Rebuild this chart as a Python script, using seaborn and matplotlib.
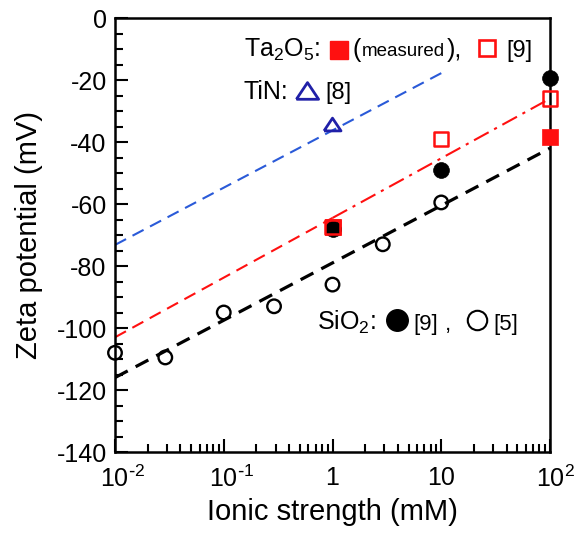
import matplotlib
matplotlib.use("Agg")
import matplotlib.pyplot as plt
import matplotlib.transforms as mtransforms
import seaborn as sns
import numpy as np
from matplotlib.ticker import FixedLocator, LogLocator, NullFormatter, MultipleLocator

# ---------------- data ----------------
sio2_ref5_ionic = [0.01, 0.029, 0.1, 0.29, 1, 2.9, 10]
sio2_ref5_zeta = [-108, -109.5, -95, -93, -86, -73, -59.5]

sio2_ref9_ionic = [1, 10, 100]
sio2_ref9_zeta = [-68, -49, -19.5]

ta_meas_ionic = [1, 100]
ta_meas_zeta = [-67.5, -38.5]

ta_ref9_ionic = [1, 10, 100]
ta_ref9_zeta = [-67.5, -39, -26]

tin_ref8_ionic = [1]
tin_ref8_zeta = [-34.5]

blue_line_x = [0.01, 10.5]
blue_line_y = [-73.2, -17.4]
red_line_x = [0.01, 1, 100]
red_line_y = [-103, -64.5, -26]
black_line_x = [0.01, 100]
black_line_y = [-116, -42]

x_ticks = [0.01, 0.1, 1, 10, 100]
x_tick_labels = [r"10$^{\text{-}2}$", r"10$^{\text{-}1}$", "1", "10", "10$^{2}$"]
x_label_shift_px = [8, 8, 0, 0, 5]
y_ticks = [0, -20, -40, -60, -80, -100, -120, -140]

RED = "#ff1010"
BLUE = "#2a5ad8"
NAVY = "#2020a8"

# ---------------- style ----------------
sns.set_theme(style="ticks")
plt.rcParams["font.family"] = ["Liberation Sans", "DejaVu Sans"]
plt.rcParams["mathtext.default"] = "regular"
plt.rcParams["axes.unicode_minus"] = False

W, H = 577, 534
fig = plt.figure(figsize=(W / 100, H / 100), dpi=100)
L, R, T, B = 115, 550, 18, 452
ax = fig.add_axes([L / W, 1 - B / H, (R - L) / W, (B - T) / H])

# ---------------- lines ----------------
sns.lineplot(x=blue_line_x, y=blue_line_y, ax=ax, color=BLUE, lw=1.5,
             linestyle=(0, (6, 3.5)), sort=False)
sns.lineplot(x=red_line_x[:2], y=red_line_y[:2], ax=ax, color=RED, lw=1.5,
             linestyle=(0, (6, 3.5)), sort=False)
sns.lineplot(x=red_line_x[1:], y=red_line_y[1:], ax=ax, color=RED, lw=1.5,
             linestyle=(0, (8, 3, 1.5, 3)), sort=False)
sns.lineplot(x=black_line_x, y=black_line_y, ax=ax, color="black", lw=2.3,
             linestyle=(0, (4.5, 2.8)), sort=False)

# ---------------- markers ----------------
sns.scatterplot(x=sio2_ref5_ionic, y=sio2_ref5_zeta, ax=ax, marker="o", s=95,
                facecolor="none", edgecolor="black", linewidth=1.7, clip_on=False, zorder=5)
sns.scatterplot(x=ta_meas_ionic, y=ta_meas_zeta, ax=ax, marker="s", s=135,
                color=RED, edgecolor=RED, linewidth=0.5, clip_on=False, zorder=5)
sns.scatterplot(x=sio2_ref9_ionic, y=sio2_ref9_zeta, ax=ax, marker="o", s=130,
                color="black", edgecolor="black", linewidth=0.5, clip_on=False, zorder=6)
sns.scatterplot(x=ta_ref9_ionic, y=ta_ref9_zeta, ax=ax, marker="s", s=105,
                facecolor="none", edgecolor=RED, linewidth=1.8, clip_on=False, zorder=7)
tri = [(-1, -0.7), (1, -0.7), (0, 0.8), (-1, -0.7)]
sns.scatterplot(x=tin_ref8_ionic, y=tin_ref8_zeta, ax=ax, marker=tri, s=150,
                facecolor="none", edgecolor=NAVY, linewidth=2.0, clip_on=False, zorder=7)

# ---------------- axes ----------------
ax.set_xscale("log")
ax.set_xlim(0.01, 100)
ax.set_ylim(-140, 0)
ax.xaxis.set_major_locator(FixedLocator(x_ticks))
ax.set_xticklabels(x_tick_labels)
ax.xaxis.set_minor_locator(LogLocator(base=10, subs=np.arange(2, 10)))
ax.xaxis.set_minor_formatter(NullFormatter())
ax.set_yticks(y_ticks)
ax.set_yticklabels([str(v) for v in y_ticks])
ax.yaxis.set_minor_locator(MultipleLocator(5))

for s in ax.spines.values():
    s.set_linewidth(1.8)
    s.set_color("black")
ax.tick_params(which="both", direction="in", top=False, right=False,
               color="black", width=1.5, labelsize=18, labelcolor="black")
ax.tick_params(which="major", length=9.5)
ax.tick_params(which="minor", length=5.8)
ax.tick_params(axis="x", which="major", pad=10)
ax.tick_params(axis="y", which="major", pad=6)

ax.set_xlabel("Ionic strength (mM)", fontsize=21, color="black", labelpad=4)
ax.set_ylabel("Zeta potential (mV)", fontsize=21, color="black", labelpad=10)


# ---------------- key annotations (pixel helper) ----------------
def fx(px):
    return (px - L) / (R - L)


def fy(py):
    return (B - py) / (B - T)


def label(px, py, s, size=18, color="black"):
    ax.text(fx(px), fy(py), s, transform=ax.transAxes, fontsize=size,
            color=color, ha="left", va="baseline")


def key(px, py, **kw):
    ax.plot([fx(px)], [fy(py)], transform=ax.transAxes, clip_on=False,
            linestyle="none", zorder=8, **kw)


# Ta2O5 row
label(244, 57, "Ta$_2$O$_5$:")
key(339, 50, marker="s", ms=12.5, color=RED, mec=RED)
label(352, 57, "(")
label(362, 56, "measured", size=13.5)
label(447, 57, "),")
key(487, 48, marker="s", ms=11.5, mfc="none", mec=RED, mew=1.9)
label(506, 57, "[9]", size=17)

# TiN row
label(244, 99, "TiN:")
key(307, 91, marker=tri, ms=16, mfc="none", mec=NAVY, mew=2.0)
label(325, 99, "[8]", size=17)

# SiO2 row
label(317, 330, "SiO$_2$:")
key(397, 320, marker="o", ms=15.5, color="black", mec="black")
label(413, 330, "[9]", size=16)
label(445, 330, ",", size=16)
key(477, 320, marker="o", ms=14, mfc="none", mec="black", mew=1.5)
label(493, 330, "[5]", size=16)

fig.canvas.draw()
for lab, dx in zip(ax.get_xticklabels(), x_label_shift_px):
    lab.set_transform(lab.get_transform() +
                      mtransforms.ScaledTranslation(dx / 100, 0, fig.dpi_scale_trans))

fig.savefig("out.png", dpi=100)
